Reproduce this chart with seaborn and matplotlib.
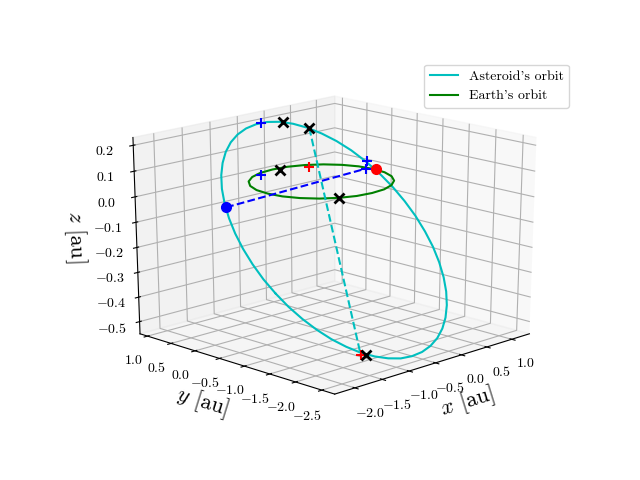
import matplotlib
matplotlib.use("Agg")
import matplotlib.pyplot as plt
import seaborn as sns

plt.rcParams["font.family"] = ["cmr10", "DejaVu Sans"]
plt.rcParams["mathtext.fontset"] = "cm"
plt.rcParams["axes.unicode_minus"] = False

colors = sns.color_palette(["c", "g", "b", "r", "k"])

x_ticks = [-2.0, -1.5, -1.0, -0.5, 0.0, 0.5, 1.0]
y_ticks = [-2.5, -2.0, -1.5, -1.0, -0.5, 0.0, 0.5, 1.0]
z_ticks = [-0.5, -0.4, -0.3, -0.2, -0.1, 0.0, 0.1, 0.2]

# orbits
asteroid_x = [-2.002, -2.027, -2.026, -2.000, -1.948, -1.872, -1.773, -1.652, -1.510, -1.349, -1.173, -0.984,
              -0.785, -0.579, -0.370, -0.162, 0.042, 0.237, 0.421, 0.589, 0.739, 0.867, 0.971, 1.049,
              1.100, 1.122, 1.115, 1.080, 1.018, 0.929, 0.816, 0.680, 0.526, 0.355, 0.171, -0.023,
              -0.224, -0.427, -0.630, -0.830, -1.022, -1.205, -1.375, -1.529, -1.666, -1.784, -1.880, -1.953, -2.002]
asteroid_y = [-1.237, -1.030, -0.819, -0.606, -0.395, -0.190, 0.007, 0.193, 0.363, 0.515, 0.647, 0.755,
              0.837, 0.893, 0.920, 0.917, 0.885, 0.823, 0.733, 0.615, 0.472, 0.307, 0.123, -0.078,
              -0.291, -0.512, -0.737, -0.962, -1.183, -1.395, -1.595, -1.780, -1.945, -2.089, -2.210, -2.305,
              -2.373, -2.414, -2.426, -2.412, -2.369, -2.301, -2.208, -2.091, -1.953, -1.796, -1.623, -1.435, -1.237]
asteroid_z = [-0.272, -0.227, -0.180, -0.133, -0.087, -0.042, 0.002, 0.042, 0.080, 0.113, 0.142, 0.166,
              0.184, 0.196, 0.202, 0.202, 0.195, 0.181, 0.161, 0.135, 0.104, 0.068, 0.027, -0.017,
              -0.064, -0.113, -0.162, -0.212, -0.260, -0.307, -0.351, -0.391, -0.428, -0.460, -0.486, -0.507,
              -0.522, -0.531, -0.534, -0.531, -0.521, -0.506, -0.486, -0.460, -0.430, -0.395, -0.357, -0.316, -0.272]
earth_x = [1.0, 0.97, 0.87, 0.71, 0.5, 0.26, 0.0, -0.26, -0.5, -0.71, -0.87, -0.97,
           -1.0, -0.97, -0.87, -0.71, -0.5, -0.26, 0.0, 0.26, 0.5, 0.71, 0.87, 0.97, 1.0]
earth_y = [0.0, 0.26, 0.5, 0.71, 0.87, 0.97, 1.0, 0.97, 0.87, 0.71, 0.5, 0.26,
           0.0, -0.26, -0.5, -0.71, -0.87, -0.97, -1.0, -0.97, -0.87, -0.71, -0.5, -0.26, 0.0]
earth_z = [0.0] * 25

# dashed lines between the special points
apsis_x = [0.449, -1.400]
apsis_y = [0.720, -2.231]
apsis_z = [0.159, -0.491]
node_x = [-1.895, 0.938]
node_y = [-0.164, 0.086]
node_z = [0.0, 0.0]

black_x = [0.083, 0.449, 0.060, -0.521, -1.325]
black_y = [0.873, 0.720, 0.919, -0.895, -2.248]
black_z = [0.192, 0.159, 0.0, 0.0, -0.495]
blue_plus_x = [-0.282, -0.323, 0.995, 0.938]
blue_plus_y = [0.920, 0.888, 0.126, 0.086]
blue_plus_z = [0.202, 0.0, 0.028, 0.0]
red_plus_x = [0.473, -1.400]
red_plus_y = [0.750, -2.231]
red_plus_z = [0.0, -0.491]
red_dot = [1.044, -0.004, -0.001]
blue_dot = [-1.895, -0.164, 0.0]

fig = plt.figure()
ax = fig.add_subplot(projection="3d")
ax.apply_aspect = lambda position=None: None  # keep the whole axes box like the old 3d axes
ax.set_box_aspect((1, 1, 1), zoom=0.95)

ax.plot(asteroid_x, asteroid_y, asteroid_z, color=colors[0], label="Asteroid's orbit")
ax.plot(earth_x, earth_y, earth_z, color=colors[1], label="Earth's orbit")
ax.plot(apsis_x, apsis_y, apsis_z, "--", color=colors[0])
ax.plot(node_x, node_y, node_z, "--", color=colors[2])
ax.plot(red_plus_x, red_plus_y, red_plus_z, "+", color=colors[3], ms=7, mew=1.5)
ax.plot(blue_plus_x, blue_plus_y, blue_plus_z, "+", color=colors[2], ms=7, mew=1.5)
ax.plot(black_x, black_y, black_z, "x", color=colors[4], ms=7, mew=2)
ax.plot(red_dot[:1], red_dot[1:2], red_dot[2:], "o", color=colors[3], ms=7)
ax.plot(blue_dot[:1], blue_dot[1:2], blue_dot[2:], "o", color=colors[2], ms=7)

ax.set_xlim(-2.36, 1.36)
ax.set_ylim(-2.74, 1.16)
ax.set_zlim(-0.55, 0.23)
ax.set_xticks(x_ticks)
ax.set_xticklabels(["$%.1f$" % t for t in x_ticks])
ax.set_yticks(y_ticks)
ax.set_yticklabels(["$%.1f$" % t for t in y_ticks])
ax.set_zticks(z_ticks)
ax.set_zticklabels(["$%.1f$" % t for t in z_ticks])
ax.set_xlabel("$x$ [au]", fontsize=16)
ax.set_ylabel("$y$ [au]", fontsize=16)
ax.set_zlabel("$z$ [au]", fontsize=16)
ax.view_init(elev=20, azim=-135)
ax.legend()
fig.savefig("out.png", dpi=100)
